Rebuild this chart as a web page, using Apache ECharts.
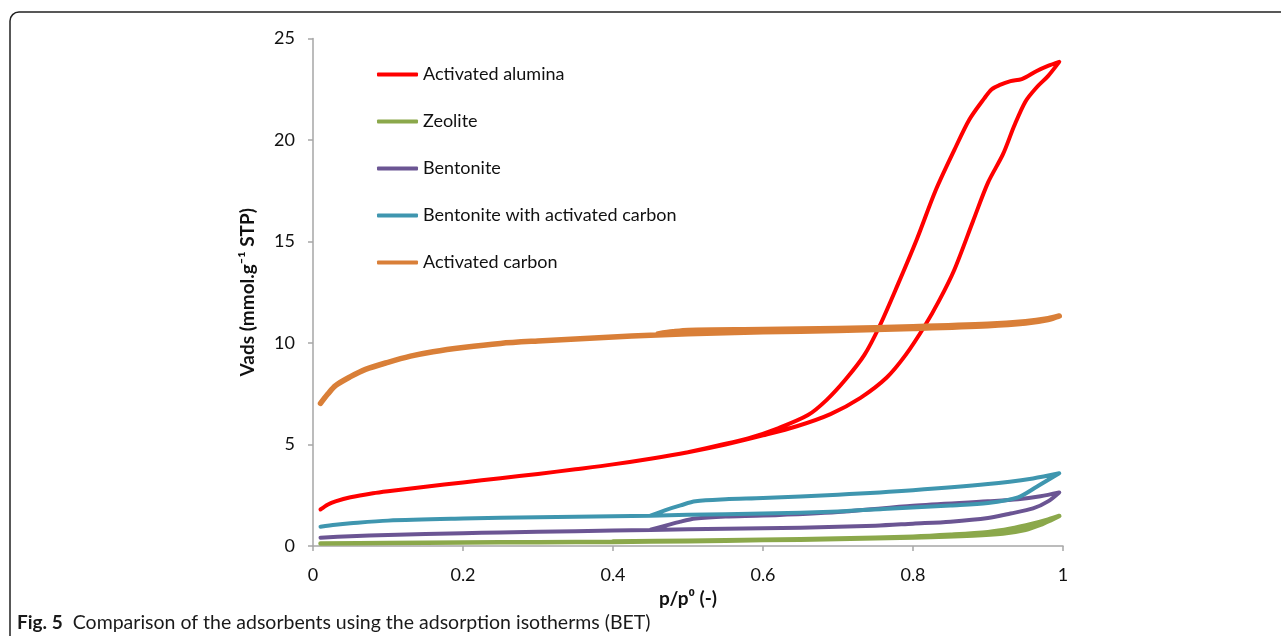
<!DOCTYPE html>
<html>
<head>
<meta charset="utf-8">
<script src="https://cdn.jsdelivr.net/npm/echarts@6/dist/echarts.min.js"></script>
<style>
html,body{margin:0;padding:0;background:#fff;}
#chart{width:1281px;height:636px;}
</style>
</head>
<body>
<div id="chart"></div>
<script>
// ---- data (p/p0 and Vads, adsorption branch then desorption branch) ----
const seriesNames = ['Activated alumina','Zeolite','Bentonite','Bentonite with activated carbon','Activated carbon'];
const xTicks = [0, 0.2, 0.4, 0.6, 0.8, 1];
const yTicks = [0, 5, 10, 15, 20, 25];

const aluminaP = [0.01,0.02,0.03,0.05,0.08,0.1,0.15,0.2,0.25,0.3,0.35,0.4,0.45,0.5,0.55,0.6,0.645,0.69,0.73,0.765,0.79,0.815,0.835,0.855,0.88,0.9,0.92,0.935,0.95,0.965,0.98,0.995,
                  0.98,0.965,0.945,0.93,0.915,0.905,0.895,0.875,0.855,0.83,0.805,0.78,0.755,0.735,0.71,0.685,0.66,0.62,0.58,0.54,0.5];
const aluminaV = [1.8,2.05,2.2,2.4,2.6,2.7,2.92,3.13,3.34,3.55,3.78,4.02,4.3,4.62,5.0,5.45,5.9,6.5,7.3,8.3,9.4,10.8,12.1,13.6,16.0,17.9,19.3,20.7,21.9,22.6,23.15,23.85,
                  23.65,23.4,23.0,22.9,22.7,22.5,22.05,21.0,19.5,17.5,15.1,12.9,10.8,9.4,8.2,7.2,6.45,5.8,5.3,4.95,4.62];

const zeoliteP = [0.01,0.1,0.2,0.3,0.4,0.5,0.6,0.7,0.8,0.88,0.92,0.95,0.97,0.985,0.995,
                  0.98,0.96,0.93,0.9,0.85,0.8,0.7,0.6,0.5,0.4];
const zeoliteV = [0.12,0.15,0.17,0.19,0.2,0.24,0.29,0.34,0.42,0.52,0.62,0.8,1.05,1.3,1.48,
                  1.3,1.1,0.85,0.68,0.55,0.46,0.37,0.31,0.26,0.22];

const bentoniteP = [0.01,0.05,0.1,0.2,0.25,0.35,0.45,0.55,0.65,0.75,0.8,0.85,0.9,0.93,0.96,0.98,0.995,
                    0.97,0.94,0.9,0.8,0.7,0.6,0.55,0.51,0.49,0.47,0.45];
const bentoniteV = [0.41,0.48,0.54,0.63,0.67,0.73,0.79,0.85,0.9,1.0,1.1,1.2,1.38,1.6,1.85,2.2,2.64,
                    2.45,2.3,2.2,1.98,1.68,1.5,1.45,1.35,1.2,1.0,0.8];

const bacP = [0.01,0.03,0.05,0.1,0.2,0.3,0.4,0.45,0.5,0.6,0.7,0.76,0.85,0.9,0.94,0.965,0.995,
              0.96,0.9,0.8,0.7,0.6,0.55,0.51,0.49,0.47,0.45];
const bacV = [0.95,1.05,1.12,1.25,1.35,1.42,1.47,1.49,1.54,1.6,1.7,1.82,2.0,2.12,2.4,2.92,3.58,
              3.33,3.05,2.75,2.53,2.36,2.3,2.2,2.0,1.77,1.5];

const carbonP = [0.01,0.02,0.03,0.05,0.07,0.1,0.13,0.16,0.2,0.25,0.3,0.35,0.4,0.45,0.5,0.55,0.6,0.7,0.8,0.9,0.95,0.98,0.995,
                 0.98,0.95,0.9,0.8,0.7,0.6,0.5,0.48,0.46];
const carbonV = [7.03,7.5,7.9,8.34,8.7,9.05,9.35,9.57,9.78,9.98,10.1,10.2,10.3,10.38,10.45,10.5,10.55,10.62,10.72,10.85,10.98,11.15,11.33,
                 11.2,11.05,10.92,10.8,10.72,10.66,10.62,10.55,10.45];

const colors = ['#FF0000','#8BA84B','#6B5593','#3F96AF','#D97F38'];
const widths = [4, 4.5, 4, 4, 5.5];
const pairs = (xs, ys) => xs.map((x, i) => [x, ys[i]]);
const datasets = [pairs(aluminaP, aluminaV), pairs(zeoliteP, zeoliteV), pairs(bentoniteP, bentoniteV), pairs(bacP, bacV), pairs(carbonP, carbonV)];

const FONT = 'Lato';
const chart = echarts.init(document.getElementById('chart'), null, {renderer: 'canvas'});
chart.setOption({
  animation: false,
  backgroundColor: '#ffffff',
  color: colors,
  title: {
    left: 12, top: 608,
    text: '{b|Fig. 5}  {n|Comparison of the adsorbents using the adsorption isotherms (BET)}',
    textStyle: {
      fontWeight: 'normal',
      rich: {
        b: {fontFamily: FONT, fontWeight: 'bold', fontSize: 19, color: '#1a1a1a'},
        n: {fontFamily: FONT, fontWeight: 'normal', fontSize: 19.5, color: '#1a1a1a'}
      }
    }
  },
  graphic: [{
    type: 'rect', silent: true,
    shape: {x: 10, y: 12, width: 1320, height: 700, r: 9},
    style: {fill: 'none', stroke: '#222', lineWidth: 1.5}
  }],
  legend: {
    orient: 'vertical', left: 372, top: 59.5,
    icon: 'roundRect', itemWidth: 41, itemHeight: 4, itemGap: 27,
    textStyle: {fontFamily: FONT, fontSize: 18, color: '#111', lineHeight: 20},
    data: seriesNames
  },
  grid: {left: 313, right: 218, top: 38.5, bottom: 90, containLabel: false},
  xAxis: {
    type: 'value', min: xTicks[0], max: xTicks[xTicks.length - 1], interval: 0.2,
    name: 'p/p⁰ (-)', nameLocation: 'middle', nameGap: 36,
    nameTextStyle: {fontFamily: FONT, fontWeight: 'bold', fontSize: 19, color: '#111'},
    axisLine: {show: true, lineStyle: {color: '#A6A6A6', width: 1.5}},
    axisTick: {show: true, length: 5, lineStyle: {color: '#A6A6A6', width: 1.5}},
    axisLabel: {fontFamily: FONT, fontSize: 18, color: '#111', margin: 20,
      formatter: v => String(+v.toFixed(1))},
    splitLine: {show: false}
  },
  yAxis: {
    type: 'value', min: yTicks[0], max: yTicks[yTicks.length - 1], interval: 5,
    name: 'Vads (mmol.g⁻¹ STP)', nameLocation: 'middle', nameGap: 56,
    nameTextStyle: {fontFamily: FONT, fontWeight: 'bold', fontSize: 19, color: '#111'},
    axisLine: {show: true, lineStyle: {color: '#A6A6A6', width: 1.5}},
    axisTick: {show: true, length: 5, lineStyle: {color: '#A6A6A6', width: 1.5}},
    axisLabel: {fontFamily: FONT, fontSize: 18, color: '#111', margin: 18},
    splitLine: {show: false}
  },
  series: seriesNames.map((n, i) => ({
    name: n, type: 'line', data: datasets[i], smooth: 0.3,
    showSymbol: false, symbol: 'none',
    lineStyle: {color: colors[i], width: widths[i], cap: 'round', join: 'round'},
    itemStyle: {color: colors[i]},
    z: 2 + i
  }))
});
</script>
</body>
</html>
